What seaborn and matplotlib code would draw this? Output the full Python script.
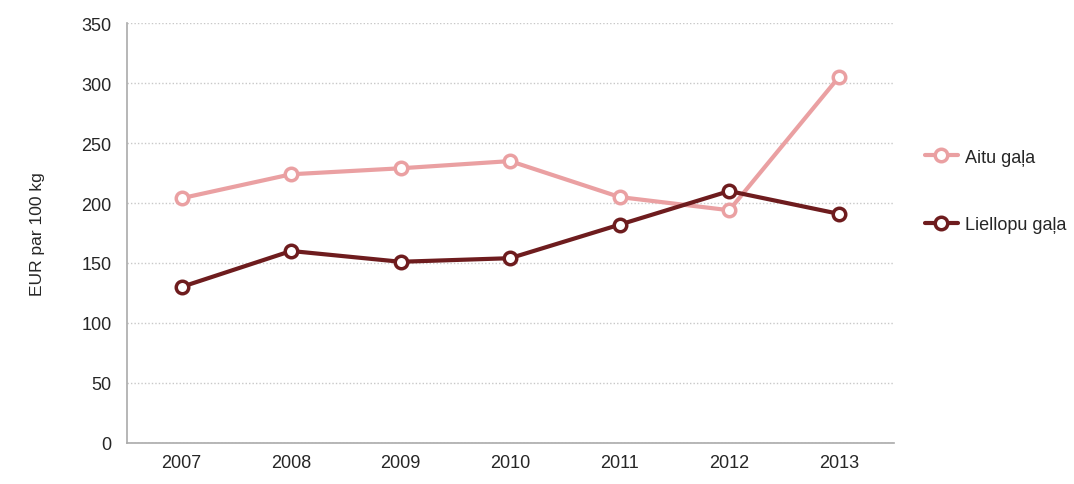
import numpy as np
import pandas as pd
import matplotlib
matplotlib.use("Agg")
import matplotlib.pyplot as plt
import seaborn as sns

# Data
years = ['2007', '2008', '2009', '2010', '2011', '2012', '2013']
aitu = [204, 224, 229, 235, 205, 194, 305]
liellopu = [130, 160, 151, 154, 182, 210, 191]
series_names = ['Aitu gaļa', 'Liellopu gaļa']
y_ticks = [0, 50, 100, 150, 200, 250, 300, 350]

df = pd.DataFrame({
    'pos': list(range(len(years))) * 2,
    'value': aitu + liellopu,
    'series': [series_names[0]] * len(years) + [series_names[1]] * len(years),
})

sns.set_style('white')
plt.rcParams['font.family'] = ['Liberation Sans', 'DejaVu Sans']

colors = {series_names[0]: '#eaa0a2', series_names[1]: '#6e1c1e'}

fig = plt.figure(figsize=(10.74, 4.85), dpi=100)
ax = fig.add_axes([0.118, 0.085, 0.714, 0.865])

sns.lineplot(data=df, x='pos', y='value', hue='series', palette=colors,
             marker='o', markersize=9, markerfacecolor='white',
             markeredgewidth=2.5, linewidth=3, ax=ax)
for line in ax.lines:
    line.set_markeredgecolor(line.get_color())

ax.set_xlim(-0.5, len(years) - 0.5)
ax.set_ylim(0, 350)
ax.set_yticks(y_ticks)
ax.set_xticks(range(len(years)))
ax.set_xticklabels(years)
ax.set_xticks(np.arange(-0.5, len(years)), minor=True)
ax.tick_params(axis='x', which='major', length=0, labelsize=13, pad=8)
ax.tick_params(axis='x', which='minor', length=5, color='#aaaaaa', direction='inout')
ax.tick_params(axis='y', length=5, color='#aaaaaa', labelsize=13, pad=6)
ax.yaxis.grid(True, linestyle=(0, (1, 1.5)), color='#c8c8c8', linewidth=1)
ax.set_axisbelow(True)

for side in ['top', 'right']:
    ax.spines[side].set_visible(False)
for side in ['left', 'bottom']:
    ax.spines[side].set_color('#aaaaaa')
    ax.spines[side].set_linewidth(1.2)

ax.set_xlabel('')
ax.set_ylabel('EUR par 100 kg', fontsize=12.5, labelpad=26)

ax.legend(title=None, frameon=False, loc='center left', bbox_to_anchor=(1.02, 0.6),
          fontsize=13, labelspacing=2.8, handlelength=1.8, handletextpad=0.4)

plt.savefig('out.png', dpi=100)
